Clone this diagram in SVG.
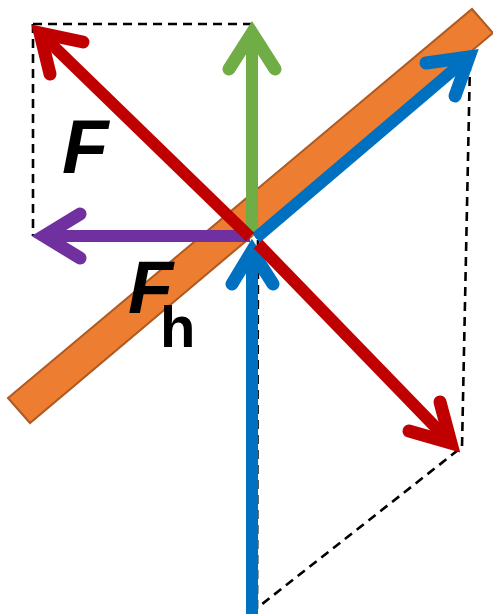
<svg xmlns="http://www.w3.org/2000/svg" width="493" height="616" viewBox="0 0 493 616">
<style>
.dash{fill:none;stroke:#000;stroke-width:2.6;stroke-dasharray:9 6}
.shaft{fill:none;stroke-width:12}
.head{fill:none;stroke-width:13;stroke-linecap:round;stroke-linejoin:miter;stroke-miterlimit:10}
.red{stroke:#C00000}.green{stroke:#70AD47}.blue{stroke:#0070C0}.purple{stroke:#7030A0}
.lbl{font-family:"Liberation Sans",Arial,sans-serif;font-weight:bold;fill:#000}
</style>
<g id="bar">
<polygon points="8,398 472,9 493,33 30,423" fill="#ED7D31" stroke="#AE5A21" stroke-width="2"/>
</g>
<g id="connectors">
<path class="dash" d="M33,24 H252 M33,24 V236"/>
<path class="dash" d="M256,238 L468,62 M470,62 L462,447 L252,612 M258,240 L257,612"/>
</g>
<g id="green-arrow">
<line class="shaft green" x1="252" y1="236" x2="252" y2="40"/>
<polyline class="head green" points="229,69 252,33 275,69"/>
</g>
<g id="purple-arrow">
<line class="shaft purple" x1="250" y1="236" x2="48" y2="236"/>
<polyline class="head purple" points="80,214 44,236 80,258"/>
</g>
<g id="blue-diagonal">
<line class="shaft blue" x1="256" y1="238" x2="464" y2="61"/>
<polyline class="head blue" points="426,63 469,57 455,96"/>
</g>
<g id="blue-vertical">
<line class="shaft blue" x1="252" y1="614" x2="252" y2="256"/>
<polyline class="head blue" points="232,284 252,251 273,284"/>
</g>
<g id="red-up">
<line class="shaft red" x1="250" y1="237" x2="43" y2="36"/>
<polyline class="head red" points="83,42 40,33 50,74"/>
</g>
<g id="red-down">
<line class="shaft red" x1="258" y1="244" x2="448" y2="440"/>
<polyline class="head red" points="409,431 451,443 440,402"/>
</g>
<g id="label-F">
<text class="lbl" x="62" y="173" font-size="76" font-style="italic">F</text>
</g>
<g id="label-Fh">
<text class="lbl" x="128" y="313" font-size="74" font-style="italic">F<tspan x="160" y="347" font-size="58" font-style="normal">h</tspan></text>
</g>
</svg>
